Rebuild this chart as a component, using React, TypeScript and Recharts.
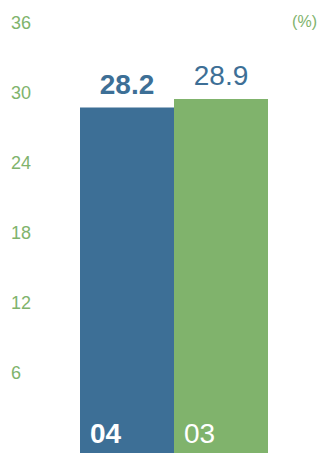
import React from "react";
import { BarChart, Bar, XAxis, YAxis, Cell, LabelList } from "recharts";

const years = ["04", "03"];
const shares = [28.2, 28.9];
const barColors = ["#3d6f96", "#80b36c"];
const yTicks = [6, 12, 18, 24, 30, 36];
const unitLabel = "(%)";

const FONT = "'Liberation Sans', Arial, Helvetica, sans-serif";
const BLUE = "#3d6f96";
const GREEN = "#80b36c";

const data = years.map((year, i) => ({ year, share: shares[i], bold: i === 0 }));

function TickText(props: any) {
  const { y, payload } = props;
  return (
    <text x={11} y={y} dy="0.36em" fill={GREEN} fontSize={18} fontFamily={FONT} textAnchor="start">
      {payload.value}
    </text>
  );
}

function ValueLabel(props: any) {
  const { x, y, width, value, index } = props;
  return (
    <text
      x={x + width / 2}
      y={y - 14}
      fill={BLUE}
      fontSize={28}
      fontWeight={data[index].bold ? "bold" : "normal"}
      fontFamily={FONT}
      textAnchor="middle"
    >
      {value}
    </text>
  );
}

function YearLabel(props: any) {
  const { x, y, height, value, index } = props;
  return (
    <text
      x={x + 10}
      y={y + height - 10}
      fill="#ffffff"
      fontSize={28}
      fontWeight={data[index].bold ? "bold" : "normal"}
      fontFamily={FONT}
      textAnchor="start"
    >
      {value}
    </text>
  );
}

export default function App() {
  React.useEffect(() => {
    document.body.style.margin = "0";
  }, []);

  return (
    <div style={{ position: "relative", width: 323, height: 453, background: "#fff" }}>
      <BarChart
        width={323}
        height={453}
        data={data}
        margin={{ top: 12, right: 55, bottom: 0, left: 0 }}
        barCategoryGap={0}
        barGap={0}
      >
        <XAxis dataKey="year" hide />
        <YAxis yAxisId="bar" domain={[0, 36]} hide />
        <YAxis
          yAxisId="ticks"
          width={80}
          domain={[-0.86, 36.94]}
          ticks={yTicks}
          axisLine={false}
          tickLine={false}
          tick={<TickText />}
          allowDataOverflow
        />
        <Bar yAxisId="bar" dataKey="share" isAnimationActive={false}>
          {data.map((d, i) => (
            <Cell key={d.year} fill={barColors[i]} />
          ))}
          <LabelList dataKey="share" content={<ValueLabel />} />
          <LabelList dataKey="year" content={<YearLabel />} />
        </Bar>
      </BarChart>
      <span
        style={{
          position: "absolute",
          right: 6,
          top: 12,
          color: GREEN,
          fontSize: 16,
          fontFamily: FONT,
          lineHeight: "20px",
        }}
      >
        {unitLabel}
      </span>
    </div>
  );
}
